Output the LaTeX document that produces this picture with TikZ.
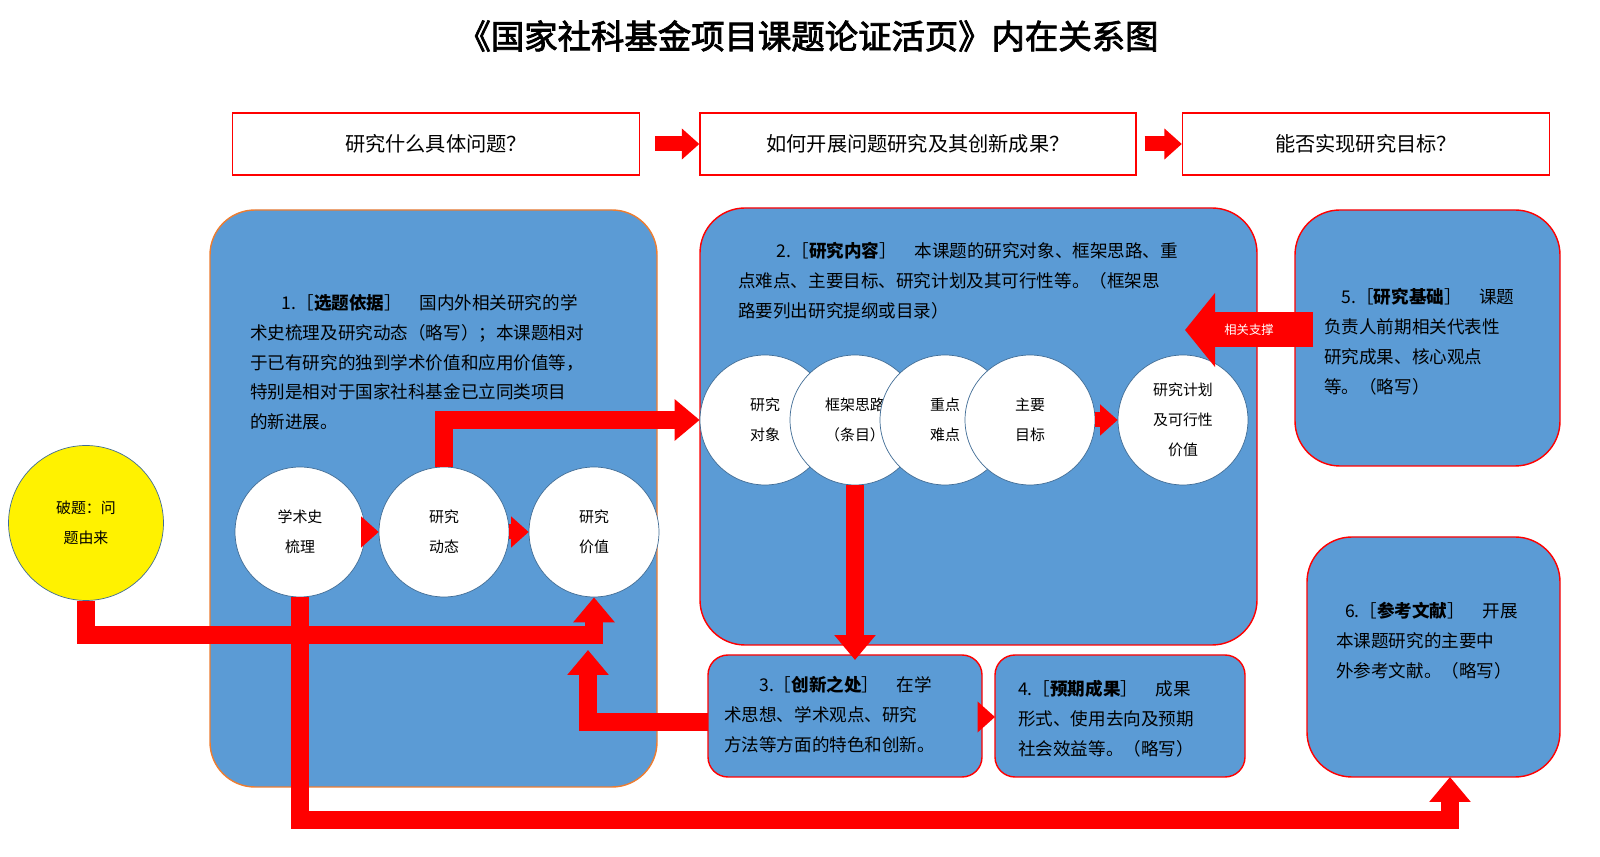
\documentclass[tikz,border=0pt]{standalone}
\usepackage{fontspec}
\setmainfont{Noto Sans CJK SC}
\newfontfamily\titlefont[FakeBold=2.5]{Noto Sans CJK SC}
\usetikzlibrary{arrows.meta,calc}
\definecolor{boxblue}{HTML}{5B9BD5}
\definecolor{boxorange}{HTML}{ED7D31}
\tikzset{
  panel/.style={draw=red,thick,fill=boxblue,rounded corners=0.9cm},
  question/.style={draw=red,thick,fill=white,minimum height=1.24cm,font=\fontsize{11.5}{14}\selectfont},
  ball/.style={circle,draw=boxblue!70!black,fill=white,minimum size=2.6cm,align=center,font=\fontsize{8.5}{17}\selectfont},
  para/.style={anchor=north west,align=left,font=\fontsize{10}{17}\selectfont},
  bar/.style={red,line width=0.36cm,-{Triangle[length=0.5cm,width=0.8cm]}},
  small/.style={red,line width=0.3cm,-{Triangle[length=0.35cm,width=0.6cm]}}
}
\begin{document}
\begin{tikzpicture}[x=0.02cm,y=-0.02cm]
    \useasboundingbox (0,0) rectangle (1600,857);

    % Title
    \node (title) at (808,36) {\titlefont\fontsize{19}{22}\selectfont 《国家社科基金项目课题论证活页》内在关系图};

    % Questions
    \node[question,minimum width=8.14cm] (q1) at (436,144) {研究什么具体问题？};
    \node[question,minimum width=8.72cm] (q2) at (918,144) {如何开展问题研究及其创新成果？};
    \node[question,minimum width=7.34cm] (q3) at (1366,144) {能否实现研究目标？};
    \draw[small] (q1.east) ++(15,0) -- (q2.west);
    \draw[small] (q2.east) ++(8,0) -- (q3.west);

    % Panels
    \draw[panel,draw=boxorange] (210,210) rectangle (657,787);
    \draw[panel] (700,208) rectangle (1257,645);
    \draw[panel] (1295,210) rectangle (1560,466);
    \draw[panel] (1307,537) rectangle (1560,777);
    \draw[panel,rounded corners=0.4cm] (708,655) rectangle (982,777);
    \draw[panel,rounded corners=0.4cm] (995,655) rectangle (1245,777);
    \coordinate (p3) at (708,722);
    \coordinate (p3e) at (982,717);
    \coordinate (p4) at (995,717);
    \coordinate (p5) at (1313,330);
    \coordinate (p6) at (1450,777);

    % Panel texts
    \node[para] (t1) at (244,288) {\hspace{1.8em}1.［\textbf{选题依据}］　国内外相关研究的学\\术史梳理及研究动态（略写）；本课题相对\\于已有研究的独到学术价值和应用价值等，\\特别是相对于国家社科基金已立同类项目\\的新进展。};
    \node[para] (t2) at (732,236) {\hspace{2.2em}2.［\textbf{研究内容}］　本课题的研究对象、框架思路、重\\点难点、主要目标、研究计划及其可行性等。（框架思\\路要列出研究提纲或目录）};
    \node[para] (t5) at (1318,282) {\hspace{1em}5.［\textbf{研究基础}］　课题\\负责人前期相关代表性\\研究成果、核心观点\\等。（略写）};
    \node[para] (t6) at (1330,596) {\hspace{0.5em}6.［\textbf{参考文献}］　开展\\本课题研究的主要中\\外参考文献。（略写）};
    \node[para] (t3) at (718,670) {\hspace{2em}3.［\textbf{创新之处}］　在学\\术思想、学术观点、研究\\方法等方面的特色和创新。};
    \node[para] (t4) at (1012,674) {4.［\textbf{预期成果}］　成果\\形式、使用去向及预期\\社会效益等。（略写）};

    % Start
    \node[ball,fill=yellow,minimum size=3.1cm] (cy) at (86,523) {破题：问\\题由来};

    % Circles in panel 1
    \node[ball] (ch) at (300,532) {学术史\\梳理};
    \node[ball] (cd) at (444,532) {研究\\动态};
    \node[ball] (cv) at (594,532) {研究\\价值};

    % Circles in panel 2
    \node[ball] (c1) at (765,420) {研究\\对象};
    \node[ball] (c2) at (855,420) {框架思路\\（条目）};
    \node[ball] (c3) at (945,420) {重点\\难点};
    \node[ball] (c4) at (1030,420) {主要\\目标};
    \node[ball] (c5) at (1183,420) {研究计划\\及可行性\\价值};

    % Connectors
    \draw[small] (ch.east) -- (cd.west);
    \draw[small] (cd.east) -- (cv.west);
    \draw[small] (c4.east) -- (c5.west);
    \draw[small] (p3e) -- (p4);
    \draw[bar] (cy.south) |- (cv.south |- 0,635) -- (cv.south);
    \draw[bar] (ch.south) |- (p6 |- 0,820) -- (p6);
    \draw[bar] (cd.north) |- (c1.west);
    \draw[bar] (c2.south) -- (c2.south |- 0,660);
    \draw[bar] (p3) -| (588,650);
    \draw[red,line width=0.7cm,-{Triangle[length=0.6cm,width=1.45cm]}] (p5) -- (1185,330)
        node[midway,white,font=\fontsize{7}{8}\selectfont] (rel) {相关支撑};
\end{tikzpicture}
\end{document}
